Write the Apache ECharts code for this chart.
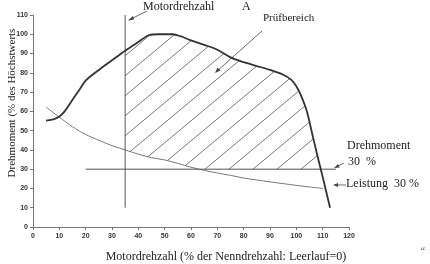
<!DOCTYPE html>
<html><head><meta charset="utf-8">
<script src="https://cdn.jsdelivr.net/npm/echarts@6/dist/echarts.min.js"></script>
<style>html,body{margin:0;padding:0;background:#fff}#c{width:430px;height:264px}</style>
</head><body><div id="c"></div>
<script>
// ---- data ----
const xTicks = [0,10,20,30,40,50,60,70,80,90,100,110,120];
const yTicks = [0,10,20,30,40,50,60,70,80,90,100,110];
const torqueX = [5,8,10,12,15,18,20,25,30,35,40,44,48,53,56,60,65,70,75,80,85,90,95,98,100,102,104,106,108,110,112.8];
const torqueY = [55.2,56,57.3,60,66,72,76,81.5,86.5,91.5,96,99.5,100,100,99,96.8,94.5,92,88,85.5,83.5,81.5,79,76.5,73,67.5,60,48.5,37,26,10];
const powerX = [5,10,15,20,25,30,35,40,45,50,55,60,65,70,75,80,85,90,95,100,105,110];
const powerY = [62.2,57,52,48,45,42.2,40,37.8,36,34.8,33,31,29.4,28,26.8,25.4,24.4,23.4,22.5,21.6,20.8,20];
const speedA = 35;          // Motordrehzahl A
const speedALineY = [10,110];
const torque30 = 30;        // Drehmoment 30 %
const torque30LineX = [20,115];
const xTitle = 'Motordrehzahl (% der Nenndrehzahl: Leerlauf=0)';
const yTitle = 'Drehmoment (% des Höchstwerts';

// ---- helpers ----
const pairs = (xs, ys) => xs.map((x,i)=>[x, ys[i]]);
function interp(xs, ys, x){
  for(let i=0;i<xs.length-1;i++){
    if(x>=xs[i] && x<=xs[i+1]){ const t=(x-xs[i])/(xs[i+1]-xs[i]); return ys[i]+t*(ys[i+1]-ys[i]); }
  }
  return null;
}
function crossX(xs, ys, level, fromX){
  for(let i=0;i<xs.length-1;i++){
    if(xs[i]<fromX) continue;
    if((ys[i]-level)*(ys[i+1]-level)<=0){ const t=(level-ys[i])/(ys[i+1]-ys[i]); return xs[i]+t*(xs[i+1]-xs[i]); }
  }
  return null;
}
// hatched region boundary
const tCross = crossX(torqueX, torqueY, torque30, speedA);
const pCross = crossX(powerX, powerY, torque30, speedA);
const region = [];
region.push([speedA, interp(torqueX, torqueY, speedA)]);
torqueX.forEach((x,i)=>{ if(x>speedA && x<tCross) region.push([x, torqueY[i]]); });
region.push([tCross, torque30]);
region.push([pCross, torque30]);
for(let i=powerX.length-1;i>=0;i--){ if(powerX[i]>speedA && powerX[i]<pCross) region.push([powerX[i], powerY[i]]); }
region.push([speedA, interp(powerX, powerY, speedA)]);

// hatch pattern
const tile = document.createElement('canvas');
const TW=24, TH=20; tile.width=TW; tile.height=TH;
const g = tile.getContext('2d');
g.strokeStyle='#555'; g.lineWidth=0.8;
g.beginPath();
for(let k=-1;k<=1;k++){ g.moveTo(-TW+k*TW, 2*TH); g.lineTo(2*TW+k*TW, -TH); }
g.stroke();

const serif = '"Liberation Serif","DejaVu Serif",serif';
const sans = 'Arial,"Liberation Sans",sans-serif';
const chart = echarts.init(document.getElementById('c'), null, {renderer:'canvas'});
chart.setOption({
  animation:false,
  grid:{left:33,right:81,top:15,bottom:37,containLabel:false,outerBoundsMode:'none'},
  xAxis:{type:'value',min:0,max:120,interval:10,
    axisLine:{lineStyle:{color:'#777',width:1}},
    axisTick:{show:true,length:3,lineStyle:{color:'#777'}},
    splitLine:{show:false},
    axisLabel:{fontSize:7,fontWeight:'bold',color:'#333',fontFamily:sans,margin:6}},
  yAxis:{type:'value',min:0,max:110,interval:10,
    axisLine:{show:true,lineStyle:{color:'#777',width:1}},
    axisTick:{show:true,length:3,lineStyle:{color:'#777'}},
    splitLine:{show:false},
    axisLabel:{fontSize:7,fontWeight:'bold',color:'#333',fontFamily:sans,margin:5}},
  series:[
    {type:'custom',coordinateSystem:'cartesian2d',data:[0],silent:true,z:1,
      renderItem:function(params, api){
        return {type:'polygon',shape:{points:region.map(p=>api.coord(p))},
          style:{fill:{image:tile,repeat:'repeat'},stroke:null}};
      }},
    {type:'line',data:pairs(powerX,powerY),showSymbol:false,symbol:'none',smooth:0.3,lineStyle:{color:'#777',width:1},z:2},
    {type:'line',data:pairs(torqueX,torqueY),showSymbol:false,symbol:'none',smooth:0.3,lineStyle:{color:'#333',width:1.8},z:3},
    {type:'line',data:speedALineY.map(y=>[speedA,y]),symbol:'none',lineStyle:{color:'#555',width:1},z:2},
    {type:'line',data:torque30LineX.map(x=>[x,torque30]),symbol:'none',lineStyle:{color:'#555',width:1},clip:false,z:2}
  ],
  graphic:[
    {type:'text',x:226,y:257,style:{text:xTitle,font:'12px '+serif,fill:'#222',align:'center',verticalAlign:'middle'}},
    {type:'text',x:12,y:103,rotation:Math.PI/2,style:{text:yTitle,font:'11px '+serif,fill:'#222',align:'center',verticalAlign:'middle'}},
    {type:'text',left:143,top:1,style:{text:'Motordrehzahl',font:'12px '+serif,fill:'#222'}},
    {type:'text',left:242,top:1,style:{text:'A',font:'12px '+serif,fill:'#222'}},
    {type:'line',shape:{x1:147,y1:11,x2:129,y2:20},style:{stroke:'#444',lineWidth:0.8}},
    {type:'polygon',shape:{points:[[128,20.5],[133,16],[134,19.5]]},style:{fill:'#444'}},
    {type:'text',left:263,top:13,style:{text:'Prüfbereich',font:'11px '+serif,fill:'#222'}},
    {type:'line',shape:{x1:262,y1:31,x2:216,y2:72},style:{stroke:'#444',lineWidth:0.8}},
    {type:'polygon',shape:{points:[[215,73],[217.5,67.5],[220.5,70.5]]},style:{fill:'#444'}},
    {type:'text',left:347,top:140,style:{text:'Drehmoment',font:'12px '+serif,fill:'#222'}},
    {type:'text',left:348,top:156,style:{text:'30  %',font:'12px '+serif,fill:'#222'}},
    {type:'line',shape:{x1:344,y1:163,x2:336,y2:167},style:{stroke:'#444',lineWidth:0.8}},
    {type:'polygon',shape:{points:[[334,168],[338,164],[339.5,167.5]]},style:{fill:'#444'}},
    {type:'text',left:346,top:178,style:{text:'Leistung  30 %',font:'12px '+serif,fill:'#222'}},
    {type:'line',shape:{x1:346,y1:185,x2:335,y2:185},style:{stroke:'#444',lineWidth:0.8}},
    {type:'polygon',shape:{points:[[333,185],[338,183],[338,187]]},style:{fill:'#444'}},
    {type:'text',x:423,y:251,style:{text:'“',font:'10px '+serif,fill:'#444',align:'center',verticalAlign:'middle'}}
  ]
});
</script></body></html>
